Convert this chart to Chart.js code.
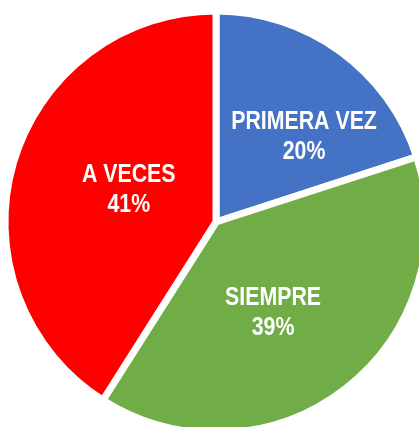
<!DOCTYPE html>
<html>
<head>
<meta charset="utf-8">
<script src="https://cdn.jsdelivr.net/npm/chart.js@4"></script>
<style>
  html, body { margin: 0; padding: 0; background: #fff; overflow: hidden; }
  #wrap { position: absolute; left: 0; top: 0; width: 432px; height: 444px; }
</style>
</head>
<body>
<div id="wrap"><canvas id="chart" width="432" height="444"></canvas></div>
<script>
var categories = ["PRIMERA VEZ", "SIEMPRE", "A VECES"];
var values = [20, 39, 41];
var colors = ['#4472C4', '#70AD47', '#FF0000'];

// where each label sits: angle from top (deg, clockwise) and distance as share of radius
var labelAngle = [46, 148, 290];
var labelDist = [0.58, 0.51, 0.44];

// the original uses a narrow bold face, so squeeze Liberation Sans
var squeeze = 0.82;

var pieLabels = {
  id: 'pieLabels',
  afterDatasetsDraw: function(chart) {
    var ctx = chart.ctx;
    var meta = chart.getDatasetMeta(0);
    var total = values.reduce(function(a, b) { return a + b }, 0);
    ctx.save();
    ctx.fillStyle = '#fff';
    ctx.font = 'bold 26px "Liberation Sans", Arial, sans-serif';
    ctx.textAlign = 'center';
    ctx.textBaseline = 'middle';
    ctx.scale(squeeze, 1);
    meta.data.forEach(function(arc, i) {
      var a = labelAngle[i] * Math.PI / 180;
      var r = arc.outerRadius * labelDist[i];
      var x = arc.x + Math.sin(a) * r;
      var y = arc.y - Math.cos(a) * r;
      ctx.fillText(categories[i], x / squeeze, y - 15);
      ctx.fillText(Math.round(values[i] / total * 100) + '%', x / squeeze, y + 15);
    });
    ctx.restore();
  }
};

var ctx = document.getElementById('chart').getContext('2d');
var chart = new Chart(ctx, {
  type: 'pie',
  data: {
    labels: categories,
    datasets: [{
      data: values,
      backgroundColor: colors,
      borderColor: '#fff',
      borderWidth: 7
    }]
  },
  options: {
    responsive: false,
    animation: false,
    radius: 211,
    plugins: {
      legend: { display: false },
      tooltip: { enabled: false }
    }
  },
  plugins: [pieLabels]
});
</script>
</body>
</html>
